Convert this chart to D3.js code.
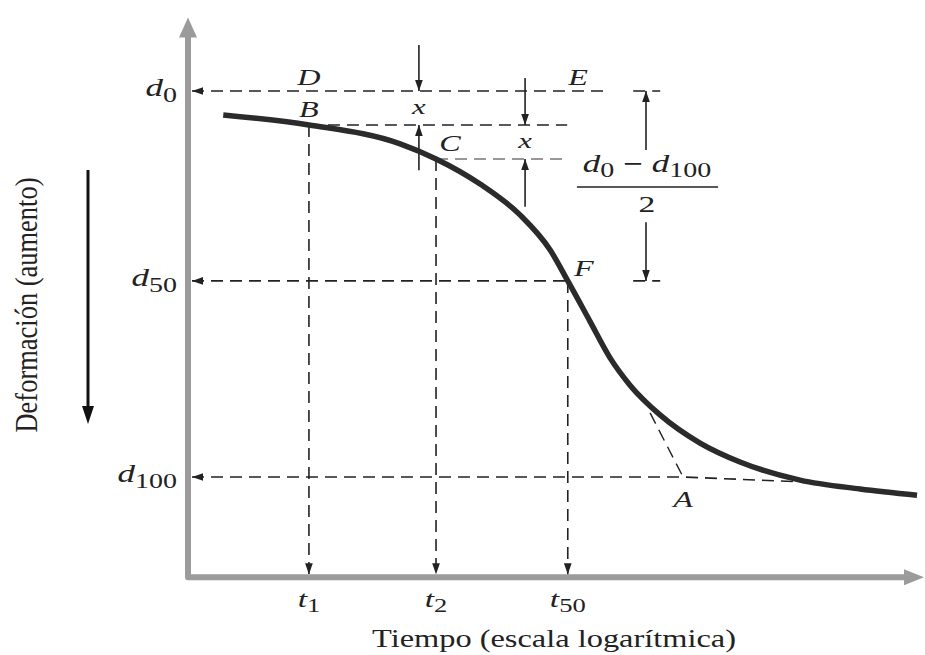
<!DOCTYPE html>
<html>
<head>
<meta charset="utf-8">
<script src="https://cdn.jsdelivr.net/npm/d3@7/dist/d3.min.js"></script>
<style>
  html, body { margin: 0; padding: 0; background: #fff; }
  svg { display: block; }
  text { font-family: "Liberation Serif", "Times New Roman", Times, serif; fill: #222; }
</style>
</head>
<body>
<svg id="chart" width="925" height="655"></svg>
<script>
// Consolidation curve: deformation versus log of time (Casagrande construction)
const levelSubs   = ["0", "50", "100"];        // d0, d50, d100
const levelValues = [0, 49.2, 100];            // deformation, % of primary consolidation

const timeSubs   = ["1", "2", "50"];           // t1, t2, t50
const timeValues = [4.7, 23.9, 129];

// Deformation curve (time on log scale)
const curveTime = [1.57, 4.7, 15.1, 23.9, 42.0, 70.0, 103, 129, 172, 222, 286, 420,
                   701, 1169, 2520, 5430, 11260];
const curveDef  = [6.2, 8.8, 13.7, 17.6, 24.1, 32.1, 41.2, 49.2, 59.8, 69.2, 76.2, 83.9,
                   91.2, 96.1, 100.8, 103.1, 104.7];

const gapX = 8.8;                 // x = dB - d0 = dC - dB
const timeExtent = [1, 12000];
const defExtent  = [-18, 126];

const svg = d3.select("#chart");
const x = d3.scaleLog().domain(timeExtent).range([188, 922]);
const y = d3.scaleLinear().domain([0, 100]).range([91, 477]);

const defs = svg.append("defs");
defs.append("marker")
  .attr("id", "arr").attr("viewBox", "0 0 10 10")
  .attr("refX", 10).attr("refY", 5)
  .attr("markerWidth", 11).attr("markerHeight", 11)
  .attr("markerUnits", "userSpaceOnUse")
  .attr("orient", "auto-start-reverse")
  .append("path").attr("d", "M0,1.5 L10,5 L0,8.5 Z").attr("fill", "#222");

const dash = "12,7";
function seg(pts, opts = {}) {
  const p = svg.append("path")
    .attr("d", d3.line()(pts))
    .attr("fill", "none")
    .attr("stroke", opts.color || "#222")
    .attr("stroke-width", opts.width || 1.6)
    .attr("stroke-dasharray", opts.solid ? null : dash);
  if (opts.start) p.attr("marker-start", "url(#arr)");
  if (opts.end) p.attr("marker-end", "url(#arr)");
  return p;
}

// text drawn slightly widened, anchored at (xp, yp)
const SX = 1.4;
function label(xp, yp, anchor = "middle") {
  return svg.append("g").attr("transform", `translate(${xp},${yp}) scale(${SX},1)`)
    .append("text").attr("text-anchor", anchor);
}

// ---- axes (grey, with arrow heads) ----
const x0 = x(timeExtent[0]), yBase = y(defExtent[1]), yTop = y(defExtent[0]);
const xEnd = x(timeExtent[1]);
svg.append("path")
  .attr("d", `M${x0},${yTop + 14} L${x0},${yBase} L${xEnd - 16},${yBase}`)
  .attr("fill", "none").attr("stroke", "#9b9b9b").attr("stroke-width", 6)
  .attr("stroke-linejoin", "round");
svg.append("path")
  .attr("d", `M${x0},${yTop - 4} L${x0 - 9},${yTop + 16} L${x0 + 9},${yTop + 16} Z`)
  .attr("fill", "#9b9b9b");
svg.append("path")
  .attr("d", `M${xEnd + 2},${yBase} L${xEnd - 18},${yBase - 8} L${xEnd - 18},${yBase + 8} Z`)
  .attr("fill", "#9b9b9b");

// ---- horizontal reference lines ----
const dF = levelValues[1];
const tD0End = 205, tSegA = 298, tSegB = 421;
seg([[x0 + 4, y(0)], [x(tD0End), y(0)]], { start: true });
seg([[x(tSegA), y(0)], [x(tSegB), y(0)]]);
seg([[x(timeValues[0]), y(gapX)], [x(128), y(gapX)]]);
seg([[x(timeValues[1]), y(2 * gapX)], [x(123), y(2 * gapX)]], { color: "#777" });
seg([[x0 + 4, y(dF)], [x(timeValues[2]), y(dF)]], { start: true });
seg([[x(tSegA), y(dF)], [x(tSegB), y(dF)]]);
// d100: intersection of the two tangents at A
const tA = 564;
seg([[x0 + 4, y(100)], [x(tA), y(100)], [x(2690), y(101.3)]], { start: true });
seg([[x(370), y(83.4)], [x(tA), y(100)]], { width: 1.4 });

// ---- vertical lines down to the time axis ----
const dStart = [gapX, 2 * gapX, dF];
timeValues.forEach((t, i) => {
  seg([[x(t), y(dStart[i])], [x(t), yBase - 3]], { end: true });
});

// ---- x arrows and (d0 - d100)/2 bracket ----
const tX1 = 19.2, tX2 = 74.7, tBr = 351;
seg([[x(tX1), y(-11.9)], [x(tX1), y(0)]], { solid: true, end: true });
seg([[x(tX1), y(20.5)], [x(tX1), y(gapX)]], { solid: true, end: true });
seg([[x(tX2), y(-3.4)], [x(tX2), y(gapX)]], { solid: true, end: true });
seg([[x(tX2), y(30)], [x(tX2), y(2 * gapX)]], { solid: true, end: true });
seg([[x(tBr), y(15.3)], [x(tBr), y(0)]], { solid: true, end: true });
seg([[x(tBr), y(34)], [x(tBr), y(dF)]], { solid: true, end: true });

// ---- curve ----
const pts = curveTime.map((t, i) => [x(t), y(curveDef[i])]);
svg.append("path")
  .attr("d", d3.line().curve(d3.curveMonotoneX)(pts))
  .attr("fill", "none").attr("stroke", "#2b2b2b").attr("stroke-width", 5.5)
  .attr("stroke-linecap", "butt");

// ---- labels ----
function dLabel(xp, yp, sub, anchor, size = 25) {
  const t = label(xp, yp, anchor);
  t.append("tspan").attr("font-style", "italic").attr("font-size", size).text("d");
  t.append("tspan").attr("font-size", size * 0.8).attr("dy", 6).text(sub);
  return t;
}
levelValues.forEach((v, i) => dLabel(x0 - 11, y(v) + 5, levelSubs[i], "end"));

timeValues.forEach((t, i) => {
  const tx = label(x(t), 607);
  tx.append("tspan").attr("font-style", "italic").attr("font-size", 24).text("t");
  tx.append("tspan").attr("font-size", 19).attr("dy", 5).text(timeSubs[i]);
});

function letter(txt, xp, yp, size = 23) {
  label(xp, yp).attr("font-style", "italic").attr("font-size", size).text(txt);
}
letter("D", x(timeValues[0]), y(0) - 6);
letter("B", x(timeValues[0]), y(gapX) - 8);
letter("E", x(147), y(0) - 6);
letter("C", x(timeValues[1]) + 14, y(2 * gapX) - 8);
letter("F", x(timeValues[2]) + 16, y(dF) - 5);
letter("A", x(tA), y(100) + 30);
letter("x", x(tX1), y(gapX / 2) + 6, 22);
letter("x", x(tX2), y(1.5 * gapX) + 6, 22);

// (d0 - d100) / 2
const fx = x(tBr) + 1;
const fr = label(fx, 172);
fr.append("tspan").attr("font-style", "italic").attr("font-size", 25).text("d");
fr.append("tspan").attr("font-size", 20).attr("dy", 5).text("0");
fr.append("tspan").attr("font-size", 25).attr("dy", -5).attr("font-weight", "bold").text(" \u2212 ");
fr.append("tspan").attr("font-style", "italic").attr("font-size", 25).text("d");
fr.append("tspan").attr("font-size", 20).attr("dy", 5).text("100");
svg.append("line")
  .attr("x1", x(145)).attr("x2", x(883)).attr("y1", 187).attr("y2", 187)
  .attr("stroke", "#222").attr("stroke-width", 1.6);
label(fx, 212).attr("font-size", 24).text("2");

// axis titles
svg.append("g").attr("transform", `translate(37,305) scale(${SX},1) rotate(-90)`)
  .append("text")
  .attr("text-anchor", "middle").attr("font-size", 22)
  .attr("textLength", 255).attr("lengthAdjust", "spacingAndGlyphs")
  .text("Deformación (aumento)");
svg.append("text")
  .attr("x", 554).attr("y", 647).attr("text-anchor", "middle").attr("font-size", 25)
  .attr("textLength", 364).attr("lengthAdjust", "spacingAndGlyphs")
  .text("Tiempo (escala logarítmica)");

// direction arrow next to the deformation title
svg.append("line")
  .attr("x1", 88).attr("x2", 88).attr("y1", 170).attr("y2", 410)
  .attr("stroke", "#111").attr("stroke-width", 3);
svg.append("path").attr("d", "M88,424 L82,406 L94,406 Z").attr("fill", "#111");
</script>
</body>
</html>
